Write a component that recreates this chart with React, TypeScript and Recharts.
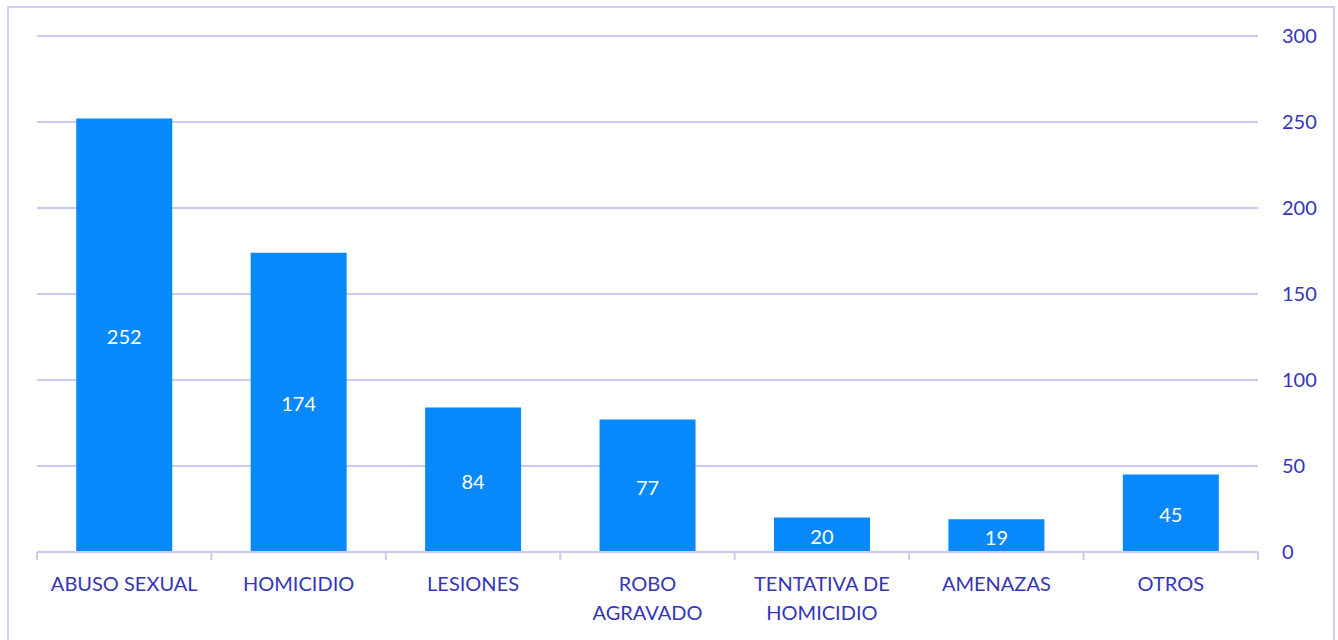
import React from "react";
import { Bar, BarChart, CartesianGrid, LabelList, XAxis, YAxis } from "recharts";

// Delitos por tipo: barras azules, eje Y a la derecha, estilo Excel.

const categories = [
  "ABUSO SEXUAL",
  "HOMICIDIO",
  "LESIONES",
  "ROBO\nAGRAVADO",
  "TENTATIVA DE\nHOMICIDIO",
  "AMENAZAS",
  "OTROS",
];
const casos = [252, 174, 84, 77, 20, 19, 45];
const yTicks = [0, 50, 100, 150, 200, 250, 300];

const data = categories.map((name, i) => ({ name, casos: casos[i] }));

const FONT = "Lato, 'Open Sans', sans-serif";
const INK = "#3535b8";
const GRID = "#cbcbf0";

function CategoryTick(props: any) {
  const { x, y, payload, index } = props;
  const half = payload.offset ?? 0;
  const lines = String(payload.value).split("\n");
  return (
    <g>
      <line x1={x - half} x2={x - half} y1={y - 8} y2={y} stroke={GRID} strokeWidth={2} />
      {index === categories.length - 1 && (
        <line x1={x + half} x2={x + half} y1={y - 8} y2={y} stroke={GRID} strokeWidth={2} />
      )}
      {lines.map((l, i) => (
        <text
          key={i}
          x={x}
          y={y + 31 + i * 29}
          textAnchor="middle"
          fill={INK}
          fontSize={20}
          fontFamily={FONT}
        >
          {l}
        </text>
      ))}
    </g>
  );
}

export default function App() {
  return (
    <div style={{ position: "absolute", left: 0, top: 0, width: 1338, height: 640, background: "#fff", overflow: "hidden" }}>
      <div
        style={{
          position: "absolute",
          left: 7,
          top: 6,
          width: 1324,
          height: 660,
          border: "2px solid #cfcff3",
        }}
      />
      <div style={{ position: "absolute", left: 0, top: 0 }}>
        <BarChart
          width={1338}
          height={640}
          data={data}
          margin={{ top: 36, right: 0, bottom: 0, left: 37 }}
          barCategoryGap="22.5%"
        >
          <CartesianGrid vertical={false} stroke={GRID} strokeWidth={2} />
          <XAxis
            dataKey="name"
            interval={0}
            height={88}
            axisLine={{ stroke: GRID, strokeWidth: 2 }}
            tickLine={false}
            tick={<CategoryTick />}
          />
          <YAxis
            orientation="right"
            domain={[0, 300]}
            ticks={yTicks}
            width={80}
            axisLine={false}
            tickLine={false}
            tickSize={0}
            tickMargin={24}
            tick={{ fill: INK, fontSize: 20, fontFamily: FONT, textAnchor: "start" }}
          />
          <Bar dataKey="casos" fill="#0788fb" isAnimationActive={false}>
            <LabelList
              dataKey="casos"
              position="center"
              fill="#ffffff"
              fontSize={20}
              fontFamily={FONT}
              dy={2}
            />
          </Bar>
        </BarChart>
      </div>
    </div>
  );
}
